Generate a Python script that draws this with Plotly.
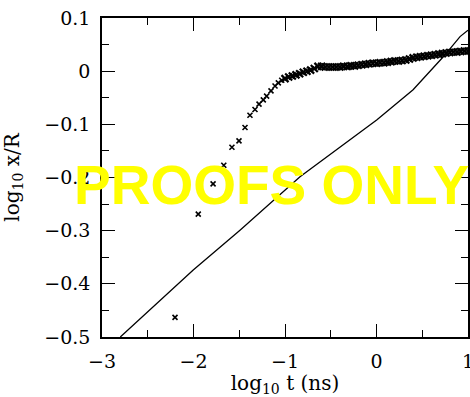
import plotly.graph_objects as go

# Individual early-time samples (log10 t, log10 x/R)
early_t = [-2.202, -1.948, -1.786, -1.669, -1.580, -1.503, -1.437, -1.383,
           -1.328, -1.284, -1.237, -1.201, -1.153, -1.109, -1.073, -1.036]
early_x = [-0.463, -0.269, -0.212, -0.177, -0.143, -0.131, -0.106, -0.083,
           -0.072, -0.062, -0.054, -0.047, -0.037, -0.028, -0.022, -0.017]

# Dense late-time samples
late_t = [-1.00, -0.96, -0.92, -0.88, -0.84, -0.80, -0.76, -0.72, -0.68, -0.64,
          -0.60, -0.56, -0.52, -0.48, -0.44, -0.40, -0.36, -0.32, -0.28, -0.24,
          -0.20, -0.16, -0.12, -0.08, -0.04, 0.00, 0.04, 0.08, 0.12, 0.16,
          0.20, 0.24, 0.28, 0.32, 0.36, 0.40, 0.44, 0.48, 0.52, 0.56,
          0.60, 0.64, 0.68, 0.72, 0.76, 0.80, 0.84, 0.88, 0.92, 0.96, 1.00]
late_x = [-0.014, -0.011, -0.009, -0.007, -0.005, -0.002, 0.000, 0.002, 0.005, 0.009,
          0.009, 0.008, 0.008, 0.008, 0.008, 0.008, 0.009, 0.009, 0.010, 0.010,
          0.011, 0.012, 0.013, 0.014, 0.015, 0.015, 0.016, 0.016, 0.017, 0.018,
          0.019, 0.019, 0.020, 0.021, 0.023, 0.025, 0.026, 0.027, 0.028, 0.029,
          0.030, 0.031, 0.032, 0.033, 0.034, 0.035, 0.036, 0.036, 0.037, 0.038, 0.038]

# Model curve
model_t = [-2.80, -2.003, -1.492, -0.836, 0.002, 0.40, 0.73, 0.913, 1.00]
model_x = [-0.500, -0.374, -0.299, -0.1985, -0.092, -0.035, 0.027, 0.065, 0.077]

fig = go.Figure()
fig.add_trace(go.Scatter(x=model_t, y=model_x, mode="lines",
                         line=dict(color="black", width=1.3), showlegend=False))
fig.add_trace(go.Scatter(x=early_t, y=early_x, mode="markers", showlegend=False,
                         marker=dict(symbol="x-thin", size=5, color="black",
                                     line=dict(color="black", width=1.6))))
fig.add_trace(go.Scatter(x=late_t, y=late_x, mode="markers", showlegend=False,
                         marker=dict(symbol="x-thin", size=7, color="black",
                                     line=dict(color="black", width=2.2))))

tick_font = dict(family="DejaVu Serif", size=19, color="black")
title_font = dict(family="DejaVu Serif", size=20, color="black")
axis_common = dict(
    showline=True, linecolor="black", linewidth=1.5, mirror="allticks",
    ticks="inside", ticklen=13, tickwidth=1.3, tickcolor="black",
    showgrid=False, zeroline=False, tickfont=tick_font,
    ticklabelstandoff=6, ticklabeloverflow="allow", automargin=False,
)

fig.update_xaxes(range=[-3, 1], tickvals=[-3, -2, -1, 0, 1],
                 ticktext=["\u22123", "\u22122", "\u22121", "0", "1"],
                 minor=dict(ticks="inside", ticklen=7, tickwidth=1.3, tickcolor="black",
                            dtick=0.5, tick0=-3, showgrid=False),
                 title=dict(text="log<sub>10</sub> t (ns)", font=title_font, standoff=6),
                 **axis_common)
fig.update_yaxes(range=[-0.5, 0.1], tickvals=[-0.5, -0.4, -0.3, -0.2, -0.1, 0, 0.1],
                 ticktext=["\u22120.5", "\u22120.4", "\u22120.3", "\u22120.2", "\u22120.1", "0", "0.1"],
                 minor=dict(ticks="inside", ticklen=7, tickwidth=1.3, tickcolor="black",
                            dtick=0.05, tick0=-0.5, showgrid=False),
                 title=dict(text="log<sub>10</sub> x/R", font=title_font, standoff=19),
                 **axis_common)

fig.add_annotation(text="PROOFS ONLY", xref="paper", yref="paper", x=0.463, y=0.478,
                   xanchor="center", yanchor="middle", showarrow=False,
                   font=dict(family="Liberation Sans", size=55, color="#ffff00", weight="bold"))

fig.update_layout(width=470, height=397, margin=dict(l=102, r=2, t=18, b=60),
                  plot_bgcolor="white", paper_bgcolor="white")

fig.write_html("out.html")
